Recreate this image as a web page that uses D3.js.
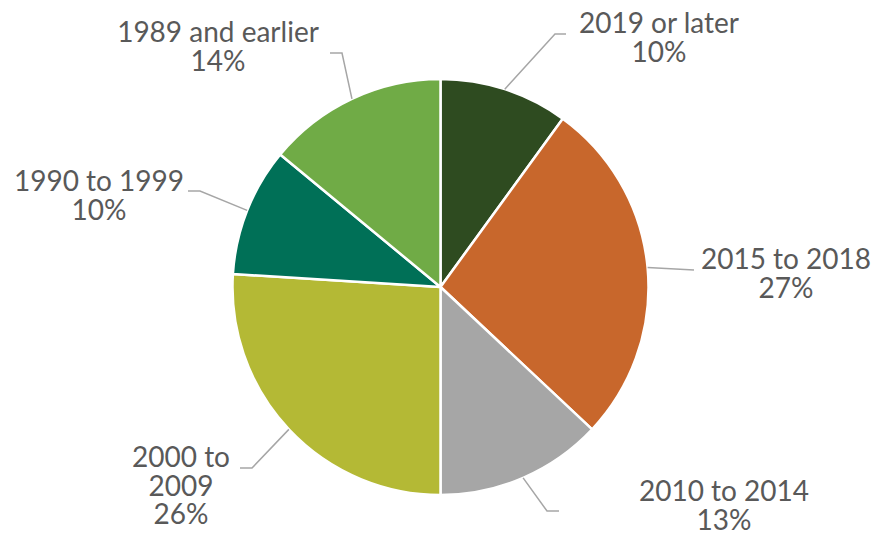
<!DOCTYPE html>
<html>
<head>
<meta charset="utf-8">
<script src="https://cdn.jsdelivr.net/npm/d3@7"></script>
<style>
  html, body { margin: 0; padding: 0; background: #fff; }
  svg { display: block; }
</style>
</head>
<body>
<svg id="chart"></svg>
<script>
// data
const categories = ['2019 or later', '2015 to 2018', '2010 to 2014', '2000 to 2009', '1990 to 1999', '1989 and earlier'];
const shares = [10, 27, 13, 26, 10, 14];
const colors = ['#2e4b20', '#c8672c', '#a6a6a6', '#b4b935', '#007057', '#70ab46'];

// label lines (text wrapping as in the original)
const labelLines = [
    ['2019 or later'],
    ['2015 to 2018'],
    ['2010 to 2014'],
    ['2000 to', '2009'],
    ['1990 to 1999'],
    ['1989 and earlier']
];

// label layout: text centre x, first baseline y, leader elbow and end
const labelLayout = [
    { x: 659, y: 33, elbow: [555, 34], end: [566, 34] },
    { x: 786, y: 269, elbow: [694, 270], end: [694, 270] },
    { x: 724, y: 501, elbow: [547, 511], end: [559, 511] },
    { x: 181, y: 467, elbow: [252, 468], end: [240, 468] },
    { x: 99, y: 191, elbow: [200, 191], end: [188, 191] },
    { x: 218, y: 42, elbow: [342, 53], end: [330, 53] }
];

const settings = {
    width: 876,
    height: 533,
    cx: 440.5,
    cy: 287,
    radius: 208,
    fontSize: 28,
    lineHeight: 28.5,
    fontFamily: 'Lato, "Open Sans", sans-serif',
    textColor: '#595959',
    leaderColor: '#a6a6a6'
};

const svg = d3.select('#chart')
    .attr('width', settings.width)
    .attr('height', settings.height);

const data = categories.map(function (c, i) {
    return { label: c, value: shares[i], color: colors[i], lines: labelLines[i], layout: labelLayout[i] };
});

const pie = d3.pie().sort(null).value(function (d) { return d.value; });
const arc = d3.arc().innerRadius(0).outerRadius(settings.radius);
const arcs = pie(data);

const g = svg.append('g')
    .attr('transform', 'translate(' + settings.cx + ',' + settings.cy + ')');

g.selectAll('.slice')
    .data(arcs).enter().append('path')
    .attr('class', 'slice')
    .attr('d', arc)
    .attr('fill', function (d) { return d.data.color; })
    .attr('stroke', '#fff')
    .attr('stroke-width', 2.5)
    .attr('stroke-linejoin', 'round');

// leader lines start on the rim at the middle angle of each slice
function rimPoint(d) {
    const a = (d.startAngle + d.endAngle) / 2;
    return [settings.cx + settings.radius * Math.sin(a), settings.cy - settings.radius * Math.cos(a)];
}

svg.selectAll('.leader')
    .data(arcs).enter().append('polyline')
    .attr('class', 'leader')
    .attr('points', function (d) {
        const p = rimPoint(d);
        const l = d.data.layout;
        return [p, l.elbow, l.end].map(function (q) { return q.join(','); }).join(' ');
    })
    .attr('fill', 'none')
    .attr('stroke', settings.leaderColor)
    .attr('stroke-width', 1.5);

const labels = svg.selectAll('.label')
    .data(arcs).enter().append('text')
    .attr('class', 'label')
    .attr('text-anchor', 'middle')
    .attr('font-family', settings.fontFamily)
    .attr('font-size', settings.fontSize)
    .attr('fill', settings.textColor);

labels.each(function (d) {
    const t = d3.select(this);
    const lines = d.data.lines.concat([d.data.value + '%']);
    lines.forEach(function (line, i) {
        t.append('tspan')
            .attr('x', d.data.layout.x)
            .attr('y', d.data.layout.y + i * settings.lineHeight)
            .text(line);
    });
});
</script>
</body>
</html>
